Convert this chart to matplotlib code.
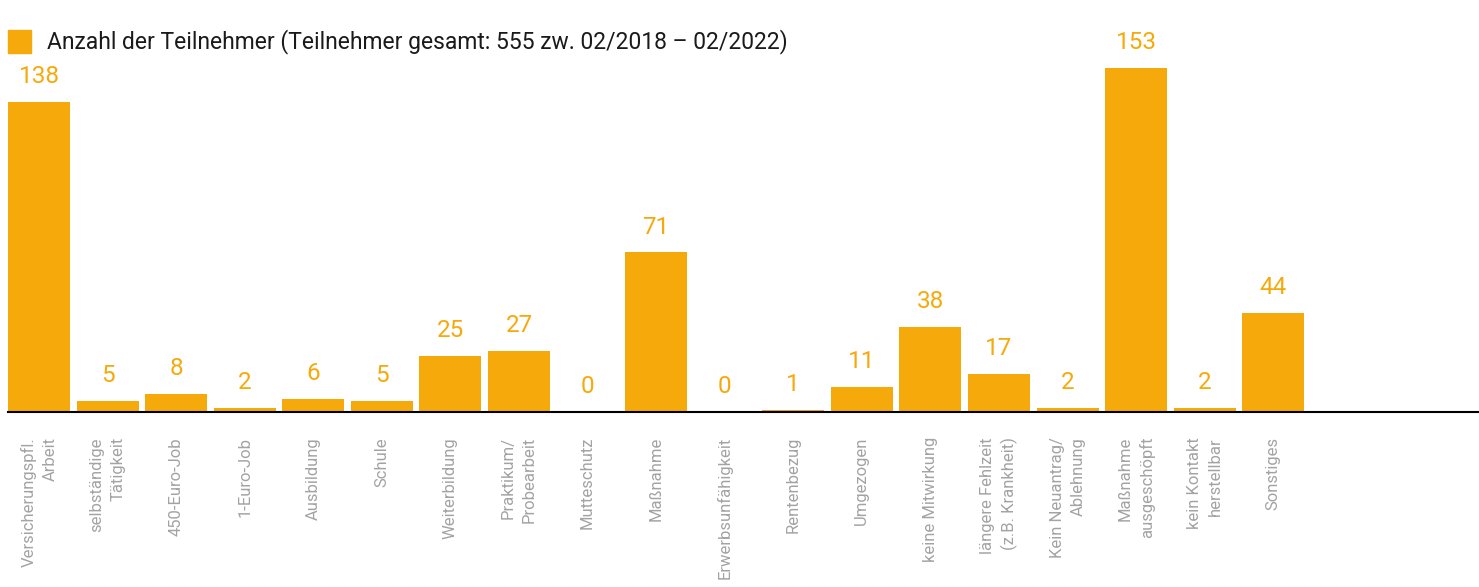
import matplotlib
matplotlib.use("Agg")
import matplotlib.pyplot as plt
from matplotlib.patches import Rectangle

categories = [
    "Versicherungspfl.\nArbeit", "selbständige\nTätigkeit", "450-Euro-Job", "1-Euro-Job",
    "Ausbildung", "Schule", "Weiterbildung", "Praktikum/\nProbearbeit", "Mutteschutz",
    "Maßnahme", "Erwerbsunfähigkeit", "Rentenbezug", "Umgezogen", "keine Mitwirkung",
    "längere Fehlzeit\n(z.B. Krankheit)", "Kein Neuantrag/\nAblehnung", "Maßnahme\nausgeschöpft",
    "kein Kontakt\nherstellbar", "Sonstiges",
]
values = [138, 5, 8, 2, 6, 5, 25, 27, 0, 71, 0, 1, 11, 38, 17, 2, 153, 2, 44]
legend_label = "Anzahl der Teilnehmer (Teilnehmer gesamt: 555 zw. 02/2018 – 02/2022)"

ORANGE = "#F6A90A"
GRAY = "#A3A3A3"
FONT = ["Roboto", "DejaVu Sans"]

W, H = 1479, 587
fig = plt.figure(figsize=(W / 100, H / 100), dpi=100)

base_px = 412
scale = 2.25  # px per unit
ymax = 170
ax_h = ymax * scale
ax = fig.add_axes([8 / W, (H - base_px) / H, 1 - 8 / W, ax_h / H])

x = list(range(len(values)))
ax.bar(x, values, width=0.905, color=ORANGE, zorder=2, clip_on=False)
ax.set_xlim(-0.4525, 21.0)
ax.set_ylim(0, ymax)

for xi, v in zip(x, values):
    ax.annotate(str(v), (xi, v), xytext=(0, 13.5), textcoords="offset points",
                ha="center", va="baseline", color=ORANGE, fontsize=17.5,
                family=FONT, annotation_clip=False)

for s in ["top", "right", "left"]:
    ax.spines[s].set_visible(False)
ax.spines["bottom"].set_color("black")
ax.spines["bottom"].set_linewidth(1.5)
ax.set_yticks([])
ax.set_xticks(x)
ax.set_xticklabels(categories, rotation=90, ha="center", va="top",
                   multialignment="right", color=GRAY, fontsize=12, family=FONT,
                   linespacing=1.5)
ax.tick_params(axis="x", length=0, pad=18)

# legend
fig.patches.append(Rectangle((8 / W, (H - 53) / H), 23 / W, 23 / H,
                             transform=fig.transFigure, color=ORANGE, figure=fig))
fig.text(47 / W, (H - 42) / H, legend_label, ha="left", va="center",
         fontsize=16.5, color="#1a1a1a", family=FONT)

fig.savefig("out.png", dpi=100)
